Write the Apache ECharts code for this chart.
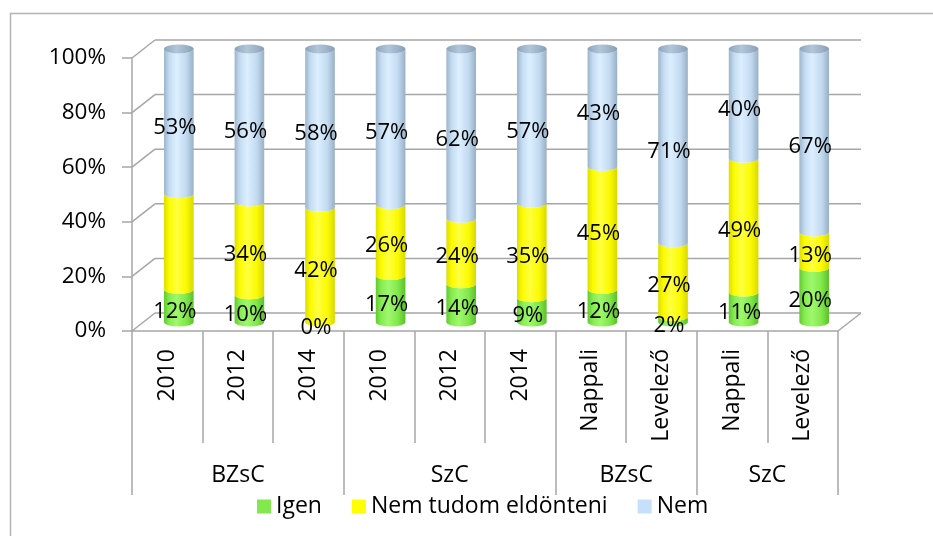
<!DOCTYPE html>
<html>
<head>
<meta charset="utf-8">
<script src="https://cdn.jsdelivr.net/npm/echarts@6/dist/echarts.min.js"></script>
<style>
  html, body { margin: 0; padding: 0; background: #ffffff; }
  #chart { width: 933px; height: 536px; }
</style>
</head>
<body>
<div id="chart"></div>
<script>
// Categories (inner level) and their groups (outer level)
const categories = ['2010', '2012', '2014', '2010', '2012', '2014', 'Nappali', 'Levelező', 'Nappali', 'Levelező'];
const groups = ['BZsC', 'SzC', 'BZsC', 'SzC'];
const groupSizes = [3, 3, 2, 2];

// Answer shares in percent per category
const igen = [12, 10, 0, 17, 14, 9, 12, 2, 11, 20];
const nemTudom = [35, 34, 42, 26, 24, 35, 45, 27, 49, 13];
const nem = [53, 56, 58, 57, 62, 57, 43, 71, 40, 67];

// Which data labels are printed
const igenLabelShown = [true, true, true, true, true, true, true, true, true, true];
const nemTudomLabelShown = [false, true, true, true, true, true, true, true, true, true];
const nemLabelShown = [true, true, true, true, true, true, true, true, true, true];

const yTicks = [0, 20, 40, 60, 80, 100];

// ---- styling ----
const FONT = '"Open Sans", Lato, sans-serif';
const GRID = { left: 132, top: 58, width: 706, height: 273 };
const DEPTH = [23, -18];          // offset of the back wall
const CYL_SHIFT = [11.5, -9];     // cylinders stand mid-depth
const LABEL_SHIFT = [-4, 6];
const BAR_RATIO = 0.42;
const RY = 4.5;
const LINE = '#a6a6a6';

const layers = [
  { name: 'Igen', values: igen, shown: igenLabelShown, legend: '#82e84c',
    stops: ['#62c92e', '#86ec52', '#9ff86c', '#80e84a', '#5cc02a'] },
  { name: 'Nem tudom eldönteni', values: nemTudom, shown: nemTudomLabelShown, legend: '#ffff00',
    stops: ['#dede00', '#fbfb00', '#ffff40', '#fafa00', '#d8d800'] },
  { name: 'Nem', values: nem, shown: nemLabelShown, legend: '#c6e0fa',
    stops: ['#9db4ca', '#c4dcf2', '#dcefff', '#c2daf0', '#98afc5'] }
];

function grad(stops) {
  return {
    type: 'linear', x: 0, y: 0, x2: 1, y2: 0,
    colorStops: [
      { offset: 0, color: stops[0] },
      { offset: 0.18, color: stops[1] },
      { offset: 0.42, color: stops[2] },
      { offset: 0.75, color: stops[3] },
      { offset: 1, color: stops[4] }
    ]
  };
}

// Stack each category to 100 %
const totals = categories.map((_, i) => layers.reduce((s, l) => s + l.values[i], 0));
const stacked = layers.map(() => []);
const labelData = [];
categories.forEach((_, i) => {
  let cum = 0;
  layers.forEach((l, k) => {
    const start = cum / totals[i] * 100;
    cum += l.values[i];
    const end = cum / totals[i] * 100;
    stacked[k].push([i, start, end, l.values[i], k === layers.length - 1 ? 1 : 0]);
    if (l.shown[i]) labelData.push([i, (start + end) / 2, l.values[i]]);
  });
});

function cylinderItem(stops) {
  return function (params, api) {
    const cat = api.value(0);
    const p0 = api.coord([cat, api.value(1)]);
    const p1 = api.coord([cat, api.value(2)]);
    const rx = api.size([1, 0])[0] * BAR_RATIO / 2;
    const cx = p0[0] + CYL_SHIFT[0];
    const yb = p0[1] + CYL_SHIFT[1];
    const yt = p1[1] + CYL_SHIFT[1];
    const xl = cx - rx, xr = cx + rx;
    const children = [{
      type: 'path',
      shape: {
        pathData: `M${xl},${yt} A${rx},${RY} 0 0 0 ${xr},${yt} L${xr},${yb} A${rx},${RY} 0 0 1 ${xl},${yb} Z`
      },
      style: { fill: grad(stops) }
    }];
    if (api.value(4) === 1) {
      children.push({
        type: 'path',
        shape: {
          pathData: `M${xl},${yt} A${rx},${RY} 0 1 0 ${xr},${yt} A${rx},${RY} 0 1 0 ${xl},${yt} Z`
        },
        style: { fill: grad(['#8aa0b6', '#9fb4c9', '#b2c6d9', '#9db2c7', '#889db3']) }
      });
    }
    return { type: 'group', children };
  };
}

// Group label centres and boundaries on a 0..N value scale
const groupBounds = [0];
groupSizes.forEach(s => groupBounds.push(groupBounds[groupBounds.length - 1] + s));
const groupCenters = groups.map((_, g) => (groupBounds[g] + groupBounds[g + 1]) / 2);

const series = layers.map((l, k) => ({
  name: l.name,
  type: 'custom',
  xAxisIndex: 0,
  yAxisIndex: 0,
  z: 3,
  itemStyle: { color: l.legend },
  encode: { x: 0, y: [1, 2] },
  data: stacked[k],
  renderItem: cylinderItem(l.stops),
  silent: true
}));

// Walls: back gridlines, side diagonals, floor edge
series.unshift({
  name: 'walls',
  type: 'custom',
  xAxisIndex: 1,
  yAxisIndex: 0,
  z: 1,
  silent: true,
  data: yTicks.map(v => [v]),
  renderItem: function (params, api) {
    const v = api.value(0);
    const f = api.coord([0, v]);
    const r = api.coord([categories.length, v]);
    const b = [f[0] + DEPTH[0], f[1] + DEPTH[1]];
    const br = [r[0] + DEPTH[0], r[1] + DEPTH[1]];
    const style = { stroke: LINE, lineWidth: 1.5 };
    const children = [
      { type: 'line', shape: { x1: f[0], y1: f[1], x2: b[0], y2: b[1] }, style },
      { type: 'line', shape: { x1: b[0], y1: b[1], x2: br[0], y2: br[1] }, style }
    ];
    if (v === 0) {
      children.push({ type: 'line', shape: { x1: r[0], y1: r[1], x2: br[0], y2: br[1] }, style });
    }
    return { type: 'group', children };
  }
});

// Percentage labels
series.push({
  name: 'labels',
  type: 'custom',
  xAxisIndex: 0,
  yAxisIndex: 0,
  z: 5,
  silent: true,
  data: labelData,
  renderItem: function (params, api) {
    const p = api.coord([api.value(0), api.value(1)]);
    return {
      type: 'text',
      x: p[0] + CYL_SHIFT[0] + LABEL_SHIFT[0],
      y: p[1] + CYL_SHIFT[1] + LABEL_SHIFT[1],
      style: {
        text: api.value(2) + '%',
        fontFamily: FONT, fontSize: 22, fill: '#000',
        align: 'center', verticalAlign: 'middle'
      }
    };
  }
});

const chart = echarts.init(document.getElementById('chart'), null, { renderer: 'canvas' });
chart.setOption({
  backgroundColor: '#ffffff',
  animation: false,
  textStyle: { fontFamily: FONT },
  graphic: [{
    type: 'rect', left: 8, top: 11,
    shape: { width: 960, height: 560 },
    style: { fill: 'none', stroke: '#b4b4b4', lineWidth: 1.5 },
    silent: true, z: -1
  }],
  grid: { left: GRID.left, top: GRID.top, width: GRID.width, height: GRID.height },
  legend: {
    data: layers.map(l => l.name),
    left: 252, top: 490,
    icon: 'rect', itemWidth: 14, itemHeight: 14, itemGap: 30, itemStyle: { borderWidth: 0 },
    textStyle: { fontFamily: FONT, fontSize: 23, color: '#000' },
    selectedMode: false
  },
  xAxis: [{
    type: 'category',
    data: categories,
    boundaryGap: true,
    axisLine: { show: true, lineStyle: { color: LINE, width: 1.5 } },
    axisTick: { show: true, interval: 0, length: 112, lineStyle: { color: LINE, width: 1.5 } },
    axisLabel: {
      interval: 0, rotate: 90, margin: 18,
      fontFamily: FONT, fontSize: 23, color: '#000'
    },
    splitLine: { show: false }
  }, {
    type: 'value',
    min: 0, max: categories.length,
    position: 'bottom',
    offset: 0,
    axisLine: { show: false },
    axisTick: { show: true, customValues: groupBounds, length: 164, lineStyle: { color: LINE, width: 1.5 } },
    axisLabel: {
      customValues: groupCenters,
      formatter: v => groups[groupCenters.indexOf(v)] || '',
      margin: 133, fontFamily: FONT, fontSize: 23, color: '#000'
    },
    splitLine: { show: false }
  }],
  yAxis: [{
    type: 'value',
    min: 0, max: 100, interval: 20,
    axisLine: { show: true, lineStyle: { color: LINE, width: 1.5 } },
    axisTick: { show: true, length: 10, lineStyle: { color: LINE, width: 1.5 } },
    axisLabel: { formatter: '{value}%', margin: 26, fontFamily: FONT, fontSize: 22.5, color: '#000' },
    splitLine: { show: false }
  }],
  series
});
</script>
</body>
</html>
